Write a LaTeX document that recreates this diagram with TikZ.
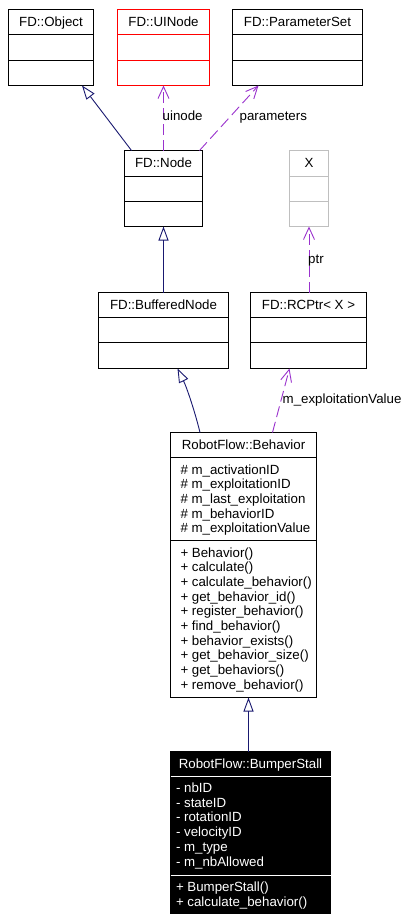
\documentclass[tikz,border=0pt]{standalone}
\usepackage{fontspec}
\setmainfont{Liberation Sans}
\usetikzlibrary{arrows.meta}
\definecolor{edgeblue}{RGB}{25,25,112}
\definecolor{edgepurple}{RGB}{154,50,205}
\definecolor{boxgray}{RGB}{191,191,191}
\newcommand\clsbox[6]{\node[#6, minimum width={(#4-#2)*1pt}, minimum height={(#5-#3)*1pt}] (#1) at ({(#2+#4)/2},{(#3+#5)/2}) {};}
\newcommand\clsdiv[3]{\draw[#3] (#1.west |- 0,#2) -- (#1.east |- 0,#2);}
\newcommand\fl{\rule{0pt}{12pt}}
\tikzset{
  umlfont/.style={font={\fontsize{13.3}{14.7}\selectfont\lineskiplimit=-20pt}},
  cls/.style={draw=black, line width=0.9pt, inner sep=0pt, outer sep=0pt, fill=white},
  clsdark/.style={draw=black, line width=0.9pt, inner sep=0pt, outer sep=0pt, fill=black},
  divline/.style={draw=black, line width=0.9pt},
  ttl/.style={umlfont, inner sep=0pt, anchor=base},
  txt/.style={umlfont, inner sep=0pt, outer sep=0pt, align=left, anchor=north west},
  lbl/.style={umlfont, inner sep=0pt, anchor=base west},
  inh/.style={draw=edgeblue, line width=0.9pt, -{Triangle[open, length=14pt, width=10pt]}},
  dep/.style={draw=edgepurple, line width=0.9pt, dash pattern=on 11pt off 5pt, -{Straight Barb[length=12pt, width=11pt]}},
}
\begin{document}
\begin{tikzpicture}[x=1pt, y=-1pt]
\useasboundingbox[fill=white] (0,0) rectangle (410,922);

% FD::Object
\clsbox{obj}{8.5}{9.5}{93.5}{85.5}{cls}
\clsdiv{obj}{34.5}{divline}
\clsdiv{obj}{60.5}{divline}
\node[ttl] (objt) at (51,26.5) {FD::Object};

% FD::UINode
\clsbox{uin}{117.5}{9.5}{209.5}{85.5}{cls, draw=red}
\clsdiv{uin}{34.5}{divline, draw=red}
\clsdiv{uin}{60.5}{divline, draw=red}
\node[ttl] (uint) at (163.5,26.5) {FD::UINode};

% FD::ParameterSet
\clsbox{par}{232.5}{9.5}{362.5}{85.5}{cls}
\clsdiv{par}{34.5}{divline}
\clsdiv{par}{60.5}{divline}
\node[ttl] (part) at (297.5,26.5) {FD::ParameterSet};

% FD::Node
\clsbox{nod}{124.5}{150.5}{202.5}{226.5}{cls}
\clsdiv{nod}{176}{divline}
\clsdiv{nod}{201}{divline}
\node[ttl] (nodt) at (163.5,167.5) {FD::Node};

% X
\clsbox{xx}{289.5}{150.5}{328.5}{226.5}{cls, draw=boxgray}
\clsdiv{xx}{176}{divline, draw=boxgray}
\clsdiv{xx}{201}{divline, draw=boxgray}
\node[ttl] (xxt) at (309,167.5) {X};

% FD::BufferedNode
\clsbox{buf}{98.5}{292.5}{228.5}{368.5}{cls}
\clsdiv{buf}{317.5}{divline}
\clsdiv{buf}{342.5}{divline}
\node[ttl] (buft) at (163.5,309.5) {FD::BufferedNode};

% FD::RCPtr< X >
\clsbox{rcp}{250.5}{292.5}{366.5}{368.5}{cls}
\clsdiv{rcp}{317.5}{divline}
\clsdiv{rcp}{342.5}{divline}
\node[ttl] (rcpt) at (308.5,309.5) {FD::RCPtr< X >};

% RobotFlow::Behavior
\clsbox{beh}{170.5}{432.5}{316.5}{697.5}{cls}
\clsdiv{beh}{457.5}{divline}
\clsdiv{beh}{540.5}{divline}
\node[ttl] (beht) at (243.5,449.5) {RobotFlow::Behavior};
\node[txt] (beha) at (180.5,462) {\fl\# m\_activationID\\\# m\_exploitationID\\\# m\_last\_exploitation\\\# m\_behaviorID\\\# m\_exploitationValue};
\node[txt] (behm) at (180.5,545) {\fl+ Behavior()\\+ calculate()\\+ calculate\_behavior()\\+ get\_behavior\_id()\\+ register\_behavior()\\+ find\_behavior()\\+ behavior\_exists()\\+ get\_behavior\_size()\\+ get\_behaviors()\\+ remove\_behavior()};

% RobotFlow::BumperStall
\clsbox{bum}{170.5}{751.5}{330.5}{913.5}{clsdark}
\clsdiv{bum}{776.5}{divline, draw=white}
\clsdiv{bum}{875}{divline, draw=white}
\node[ttl, text=white] (bumt) at (250.5,768.5) {RobotFlow::BumperStall};
\node[txt, text=white] (buma) at (176,780.5) {\fl- nbID\\- stateID\\- rotationID\\- velocityID\\- m\_type\\- m\_nbAllowed};
\node[txt, text=white] (bumm) at (176,879.5) {\fl+ BumperStall()\\+ calculate\_behavior()};

% connectors
\draw[inh] ([xshift=7pt]nod.north west) -- ([xshift=-11.5pt]obj.south east);
\draw[dep] (nod.north) -- (uin.south);
\draw[dep] ([xshift=-3pt]nod.north east) -- ([xshift=26pt]par.south west);
\draw[inh] (buf.north) -- (nod.south);
\draw[dep] (xx.south |- rcp.north) -- (xx.south);
\draw[inh] ([xshift=-43.5pt]beh.north) .. controls (195,412) and (187,388) .. ([xshift=14pt]buf.south);
\draw[dep] ([xshift=29pt]beh.north) -- ([xshift=-19pt]rcp.south);
\draw[inh] ([xshift=-2pt]bum.north) -- ([xshift=5pt]beh.south);

% edge labels
\node[lbl] (luin) at (162.5,120.5) {uinode};
\node[lbl] (lpar) at (239.5,120.5) {parameters};
\node[lbl] (lptr) at (308,263) {ptr};
\node[lbl] (lexp) at (282.5,403.5) {m\_exploitationValue};
\end{tikzpicture}
\end{document}
